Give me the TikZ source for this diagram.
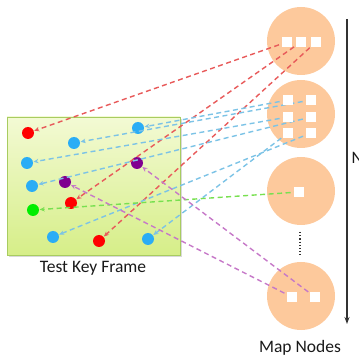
\documentclass[tikz,border=0pt]{standalone}
\usepackage{fontspec}
\setmainfont{Carlito}
\usetikzlibrary{arrows.meta}
\definecolor{mapfill}{HTML}{FDC99C}
\definecolor{frametop}{HTML}{F3FAD4}
\definecolor{framebot}{HTML}{D6EE88}
\definecolor{frameedge}{HTML}{A8CC60}
\definecolor{redline}{HTML}{E85A5A}
\definecolor{blueline}{HTML}{7CC3E6}
\definecolor{greenline}{HTML}{78E050}
\definecolor{purpleline}{HTML}{C678C8}
\definecolor{reddot}{HTML}{FF0000}
\definecolor{bluedot}{HTML}{2AADF5}
\definecolor{greendot}{HTML}{00EE00}
\definecolor{purpledot}{HTML}{800090}
\definecolor{axis}{HTML}{333333}
\tikzset{
  mapnode/.style={circle, fill=mapfill, draw=none, minimum size=68pt, inner sep=0pt},
  sq/.style={rectangle, fill=white, draw=none, minimum size=10.5pt, inner sep=0pt},
  dot/.style={circle, draw=none, minimum size=12pt, inner sep=0pt},
  link/.style={dashed, dash pattern=on 5pt off 3.5pt, line width=1.4pt, -{Stealth[length=5pt,width=4.5pt]}, shorten >=0.5pt},
  lbl/.style={font=\fontsize{17.5}{20}\selectfont, text=black!90, inner sep=0pt}
}
\begin{document}
\begin{tikzpicture}[x=1pt,y=-1pt]
\useasboundingbox (0,0) rectangle (359,358);
% key frame
\fill[black!15] (9,119) rectangle (182,257);
\node[draw=frameedge, line width=0.8pt, top color=frametop, bottom color=framebot, minimum width=173pt, minimum height=138pt, inner sep=0pt] (frame) at (93.5,186) {};
\node[lbl] (framelbl) at (93,268) {Test Key Frame};
% map nodes
\node[mapnode] (m1) at (301,41) {};
\node[mapnode] (m2) at (301,114) {};
\node[mapnode] (m3) at (301,191) {};
\node[mapnode] (m4) at (301,296) {};
\node[lbl] (maplbl) at (300,348) {Map Nodes};
\coordinate (d1) at (300,232);
\coordinate (d2) at (300,255);
\draw[axis, line width=1.2pt, dotted] (d1) -- (d2);
% axis arrow
\coordinate (a1) at (347,19);
\coordinate (a2) at (347,324);
\draw[axis, line width=1.4pt, -{Stealth[length=7pt,width=5pt]}] (a1) -- (a2);
\node[lbl, anchor=west] (nlbl) at (351.5,158) {N};
% squares
\node[sq] (r1) at (287,42) {};
\node[sq] (r2) at (301,42) {};
\node[sq] (r3) at (316,42) {};
\node[sq] (b1) at (288,100) {};
\node[sq] (b2) at (311,100) {};
\node[sq] (b3) at (288,117) {};
\node[sq] (b4) at (311,117) {};
\node[sq] (b5) at (288,133) {};
\node[sq] (b6) at (311,133) {};
\node[sq] (g1) at (299,192) {};
\node[sq] (p1) at (292,297) {};
\node[sq] (p2) at (315,297) {};
% dots
\node[dot, fill=reddot] (kr1) at (28,133) {};
\node[dot, fill=reddot] (kr2) at (71,203) {};
\node[dot, fill=reddot] (kr3) at (99,241) {};
\node[dot, fill=bluedot] (kb1) at (138,128) {};
\node[dot, fill=bluedot] (kb2) at (74,143) {};
\node[dot, fill=bluedot] (kb3) at (27,163) {};
\node[dot, fill=bluedot] (kb4) at (32,186) {};
\node[dot, fill=bluedot] (kb5) at (148,239) {};
\node[dot, fill=bluedot] (kb6) at (53,237) {};
\node[dot, fill=greendot] (kg1) at (33,210) {};
\node[dot, fill=purpledot] (kp1) at (65,182) {};
\node[dot, fill=purpledot] (kp2) at (137,163) {};
% links
\draw[link, redline] (r1.center) -- (kr1);
\draw[link, redline] (r2.center) -- (kr2);
\draw[link, redline] (r3.center) -- (kr3);
\draw[link, blueline] (b1.center) -- (kb1);
\draw[link, blueline] (b2.center) -- (kb2);
\draw[link, blueline] (b3.center) -- (kb3);
\draw[link, blueline] (b4.center) -- (kb4);
\draw[link, blueline] (b5.center) -- (kb5);
\draw[link, blueline] (b6.center) -- (kb6);
\draw[link, greenline] (g1.center) -- (kg1);
\draw[link, purpleline] (p1.center) -- (kp1);
\draw[link, purpleline] (p2.center) -- (kp2);
% redraw squares on top of line starts
\foreach \s/\x/\y in {r1/287/42, r2/301/42, r3/316/42, b1/288/100, b2/311/100, b3/288/117, b4/311/117, b5/288/133, b6/311/133, g1/299/192, p1/292/297, p2/315/297}
  \node[sq] at (\x,\y) {};
\end{tikzpicture}
\end{document}
